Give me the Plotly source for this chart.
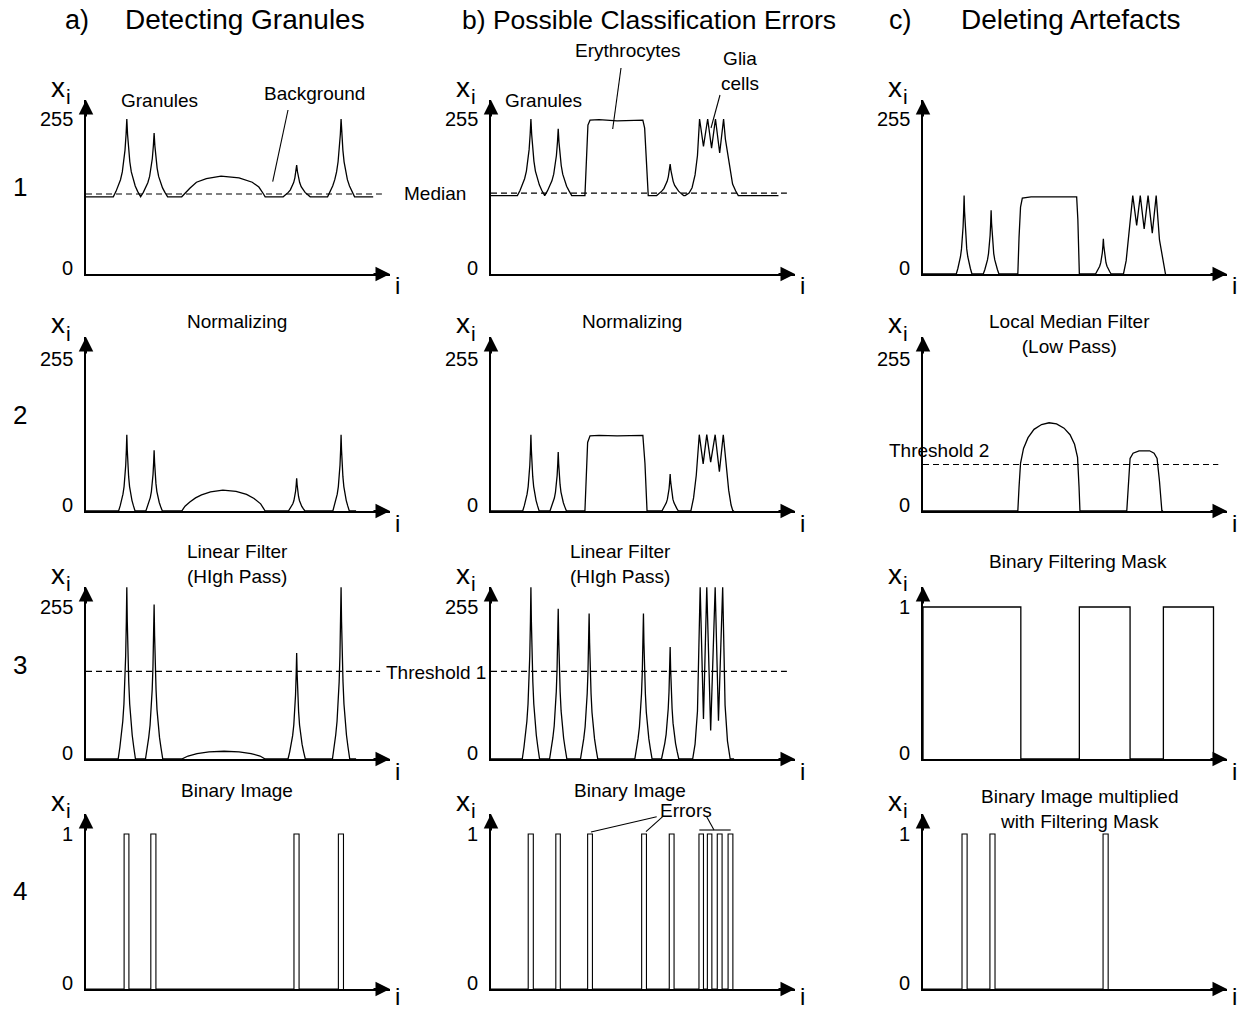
import plotly.graph_objects as go

W, H = 1238, 1012
FONT = "Liberation Sans, Arial, Helvetica, sans-serif"

# ---------------- layout geometry (pixels) ----------------
COL_L = [86, 491, 923]          # x pixel of each column's vertical axis
AXIS_LEN = 304                  # pixel length of horizontal axis
I_MAX = 101.3                   # i value at the tip of the horizontal axis
ROW_BASE = [274, 511, 759, 989] # pixel of value 0
ROW_TOP = [119, 359, 607, 834]  # pixel of the top tick value
ROW_TIP = [100, 337, 587, 814]  # pixel of the arrow tip
ROW_ILABEL_DY = [12, 12, 12, 7] # offset of the "i" axis name below the axis
YMAX = [[255, 255, 255], [255, 255, 255], [255, 255, 1], [1, 1, 1]]

# ---------------- data ----------------
# generic peak profile (offset in i, fraction of peak height)
PEAK_DX = [-4.5, -3.6, -2.8, -2.1, -1.5, -1.0, -0.6, -0.25, 0, 0.25, 0.6, 1.0, 1.5, 2.1, 2.8, 3.6, 4.5]
PEAK_F = [0, 0.07, 0.14, 0.22, 0.32, 0.45, 0.60, 0.80, 1, 0.80, 0.60, 0.45, 0.32, 0.22, 0.14, 0.07, 0]

# a1) raw signal
A1_BASE = 127
A1_PEAK_I = [13.6, 22.7, 70.2, 85.0]
A1_PEAK_TOP = [255, 232, 179, 255]
A1_HUMP_I = [31.9, 33.2, 34.6, 36.8, 40.1, 45.0, 51.0, 55.4, 57.6, 59.1, 59.7]
A1_HUMP_X = [127, 134, 141, 151, 157, 161, 158, 151, 143, 132, 127]
A1_END = 95.7
A1_MEDIAN = 131.5

# b1) raw signal with artefacts
B1_BASE = 129
B1_PEAK_I = [13.3, 22.4, 59.7]
B1_PEAK_TOP = [255, 239, 181]
B1_ERY_I = [31.3, 31.8, 32.3, 33.0, 36.0, 42.0, 46.0, 50.6, 51.2, 51.8, 52.4]
B1_ERY_X = [129, 200, 245, 253, 254, 252, 252, 253, 240, 180, 129]
B1_GLIA_I = [64.7, 66.0, 67.0, 68.0, 68.8, 69.5, 70.8, 72.2, 73.5, 74.8, 76.2, 77.5, 78.1, 78.8, 79.6, 80.5, 81.5, 82.4]
B1_GLIA_X = [129, 133, 142, 163, 195, 255, 210, 255, 207, 255, 199, 255, 222, 200, 170, 148, 137, 129]
B1_END = 95.8
B1_MEDIAN = 133

# c1) normalized signal with artefacts
C1_PEAK_I = [13.7, 22.7, 60.1]
C1_PEAK_TOP = [129, 105, 58]
C1_ERY_I = [31.6, 32.0, 32.5, 33.1, 36.0, 45.0, 51.2, 51.6, 52.1]
C1_ERY_X = [0, 60, 110, 125, 127, 127, 127, 90, 0]
C1_GLIA_I = [66.8, 67.7, 68.6, 69.9, 71.2, 72.4, 73.7, 75.0, 76.4, 77.7, 78.8, 79.9, 80.8]
C1_GLIA_X = [0, 22, 67, 129, 80, 129, 74, 129, 67, 129, 56, 22, 0]

# a2) normalized
A2_PEAK_I = [13.6, 22.7, 70.2, 85.0]
A2_PEAK_TOP = [128, 102, 55, 128]
A2_HUMP_I = [31.9, 33.0, 34.6, 36.5, 38.5, 41.5, 45.6, 50.0, 53.5, 56.0, 58.2, 59.7]
A2_HUMP_X = [0, 8, 15, 22, 27, 32, 35, 33, 28, 21, 12, 0]

# b2) normalized
B2_PEAK_I = [13.3, 22.4, 59.7]
B2_PEAK_TOP = [128, 99, 62]
B2_ERY_I = [31.3, 31.7, 32.2, 33.0, 36.0, 42.0, 46.0, 50.6, 51.3, 52.0]
B2_ERY_X = [0, 60, 115, 126, 127, 126, 126, 127, 80, 0]
B2_GLIA_I = [66.6, 67.5, 68.4, 69.4, 70.7, 71.9, 73.2, 74.7, 76.1, 77.4, 78.2, 79.2, 80.0, 80.6]
B2_GLIA_X = [0, 22, 60, 128, 79, 128, 82, 128, 66, 128, 80, 35, 10, 0]

# c2) local median filter
C2_DOME1_I = [31.6, 32.0, 32.5, 33.5, 35.0, 37.0, 39.5, 42.0, 44.5, 47.0, 49.0, 50.5, 51.5, 52.0, 52.3]
C2_DOME1_X = [0, 40, 80, 105, 123, 137, 145, 148, 146, 139, 128, 112, 90, 40, 0]
C2_DOME2_I = [67.9, 68.4, 69.0, 70.0, 72.0, 75.5, 77.0, 78.0, 78.8, 79.6]
C2_DOME2_X = [0, 50, 88, 97, 101, 101, 97, 88, 50, 0]
C2_THRESHOLD = 78

# a3) high pass
A3_PEAK_I = [13.6, 22.7, 70.2, 85.0]
A3_PEAK_TOP = [288, 259, 178, 288]
A3_HUMP_I = [31.9, 34.0, 37.0, 41.0, 46.0, 51.0, 55.0, 58.0, 59.7]
A3_HUMP_X = [0, 5, 9, 12, 13, 12, 9, 5, 0]
THRESHOLD_1 = 147

# b3) high pass
B3_PEAK_I = [13.3, 22.4, 32.7, 50.8, 59.7]
B3_PEAK_TOP = [288, 252, 244, 244, 188]
B3_GLIA_I = [67.2, 68.0, 68.8, 69.7, 70.8, 71.9, 73.2, 74.7, 75.8, 77.2, 78.0, 78.8, 79.7]
B3_GLIA_X = [0, 25, 80, 288, 67, 288, 48, 288, 64, 288, 90, 30, 0]

# c3) binary filtering mask
C3_MASK_START = [0.0, 52.1, 80.1]
C3_MASK_END = [32.6, 69.0, 96.8]

# row 4 binary images
A4_START = [12.7, 21.6, 69.3, 84.1]
A4_END = [14.3, 23.3, 71.0, 85.8]
B4_START = [12.4, 21.6, 32.2, 50.2, 59.4, 69.3, 72.1, 75.4, 79.0]
B4_END = [14.1, 23.1, 33.8, 51.8, 61.0, 70.8, 73.6, 77.0, 80.6]
C4_START = [13.0, 22.3, 60.0]
C4_END = [14.7, 24.0, 61.7]


# ---------------- helpers ----------------
def signal(base, end, peaks_i=(), peaks_top=(), w=1.0, polys=()):
    feats = []
    for c, t in zip(peaks_i, peaks_top):
        feats.append(([c + d * w for d in PEAK_DX], [base + (t - base) * f for f in PEAK_F]))
    for xi, yi in polys:
        feats.append((list(xi), list(yi)))
    feats.sort(key=lambda f: f[0][0])
    xs, ys = [0], [base]
    for fx, fy in feats:
        xs += fx
        ys += fy
    xs.append(max(end, xs[-1]))
    ys.append(base)
    return xs, ys


def pulses(starts, ends):
    xs, ys = [0], [0]
    for s, e in zip(starts, ends):
        xs += [s, s, e, e]
        ys += [0, 1, 1, 0]
    return xs, ys


def px(x):
    return x / W


def py(y):
    return 1 - y / H


fig = go.Figure()
layout = dict(
    width=W, height=H, margin=dict(l=0, r=0, t=0, b=0), autosize=False,
    paper_bgcolor="white", plot_bgcolor="rgba(0,0,0,0)", showlegend=False,
    font=dict(family=FONT, color="black"),
)
annotations = []
shapes = []


def text(x, y, s, size=19, **kw):
    annotations.append(dict(xref="paper", yref="paper", x=px(x), y=py(y), text=s,
                            xanchor=kw.pop("xanchor", "center"), yanchor="middle",
                            showarrow=False, font=dict(size=size), **kw))


for r in range(4):
    for c in range(3):
        n = r * 3 + c + 1
        L = COL_L[c]
        B, T, A = ROW_BASE[r], ROW_TOP[r], ROW_TIP[r]
        ymax = YMAX[r][c]
        ytop = ymax * (B - A) / (B - T)
        sx = "" if n == 1 else str(n)
        layout["xaxis" + sx] = dict(
            domain=[px(L), px(L + AXIS_LEN)], range=[0, I_MAX], anchor="y" + sx,
            showline=True, linecolor="black", linewidth=2, showgrid=False, zeroline=False,
            ticks="", showticklabels=False, fixedrange=True)
        layout["yaxis" + sx] = dict(
            domain=[py(B), py(A)], range=[0, ytop], anchor="x" + sx,
            showline=True, linecolor="black", linewidth=2, showgrid=False, zeroline=False,
            ticks="", showticklabels=False, fixedrange=True)
        xr, yr = "x" + sx, "y" + sx
        # arrow heads
        annotations.append(dict(xref=xr, yref=yr, x=0, y=ytop, ax=0, ay=18, text="",
                                showarrow=True, arrowhead=2, arrowsize=1.45, arrowwidth=2,
                                arrowcolor="black", standoff=0))
        annotations.append(dict(xref=xr, yref=yr, x=I_MAX, y=0, ax=-18, ay=0, text="",
                                showarrow=True, arrowhead=2, arrowsize=1.45, arrowwidth=2,
                                arrowcolor="black", standoff=0))
        # tick labels
        top_lbl = "255" if ymax == 255 else "1"
        annotations.append(dict(xref=xr, yref=yr, x=0, y=ymax, text=top_lbl, showarrow=False,
                                xanchor="right", yanchor="middle", xshift=-11, font=dict(size=20)))
        annotations.append(dict(xref=xr, yref=yr, x=0, y=0, text="0", showarrow=False,
                                xanchor="right", yanchor="middle", xshift=-11, yshift=6,
                                font=dict(size=20)))
        # axis names
        text(L - 28, A - 13, "x", 28)
        text(L - 18, A - 4, "i", 21)
        text(L + 311, B + ROW_ILABEL_DY[r], "i", 24)


def line(n, xs, ys, dash=None, width=1.3):
    sx = "" if n == 1 else str(n)
    fig.add_trace(go.Scatter(x=xs, y=ys, mode="lines", xaxis="x" + sx, yaxis="y" + sx,
                             line=dict(color="black", width=width, dash=dash),
                             hoverinfo="skip", cliponaxis=False))


DASH = "6px,4px"
# row 1
line(1, [0, 98.6], [A1_MEDIAN, A1_MEDIAN], dash=DASH, width=1.1)
line(1, *signal(A1_BASE, A1_END, A1_PEAK_I, A1_PEAK_TOP, 1.0, [(A1_HUMP_I, A1_HUMP_X)]))
line(2, [0, 98.6], [B1_MEDIAN, B1_MEDIAN], dash=DASH, width=1.1)
line(2, *signal(B1_BASE, B1_END, B1_PEAK_I, B1_PEAK_TOP, 1.0,
                [(B1_ERY_I, B1_ERY_X), (B1_GLIA_I, B1_GLIA_X)]))
line(3, *signal(0, 81, C1_PEAK_I, C1_PEAK_TOP, 0.58, [(C1_ERY_I, C1_ERY_X), (C1_GLIA_I, C1_GLIA_X)]))
# row 2
line(4, *signal(0, 90, A2_PEAK_I, A2_PEAK_TOP, 0.61, [(A2_HUMP_I, A2_HUMP_X)]))
line(5, *signal(0, 81, B2_PEAK_I, B2_PEAK_TOP, 0.61, [(B2_ERY_I, B2_ERY_X), (B2_GLIA_I, B2_GLIA_X)]))
line(6, [0, 98.4], [C2_THRESHOLD, C2_THRESHOLD], dash=DASH, width=1.1)
line(6, *signal(0, 80, (), (), 1.0, [(C2_DOME1_I, C2_DOME1_X), (C2_DOME2_I, C2_DOME2_X)]))
# row 3
line(7, [0, 98.0], [THRESHOLD_1, THRESHOLD_1], dash=DASH, width=1.1)
line(7, *signal(0, 90, A3_PEAK_I, A3_PEAK_TOP, 0.64, [(A3_HUMP_I, A3_HUMP_X)]))
line(8, [0, 98.6], [THRESHOLD_1, THRESHOLD_1], dash=DASH, width=1.1)
line(8, *signal(0, 81, B3_PEAK_I, B3_PEAK_TOP, 0.64, [(B3_GLIA_I, B3_GLIA_X)]))
mx, my = [], []
for s, e in zip(C3_MASK_START, C3_MASK_END):
    mx += [s, s, e, e]
    my += [0, 1, 1, 0]
line(9, mx, my, width=1.3)
# row 4
line(10, *pulses(A4_START, A4_END), width=1.1)
line(11, *pulses(B4_START, B4_END), width=1.1)
line(12, *pulses(C4_START, C4_END), width=1.1)

# column titles
text(77, 20, "a)", 27)
text(245, 20, "Detecting Granules", 28)
text(649, 20, "b) Possible Classification Errors", 26.5)
text(900, 20, "c)", 27)
text(1070, 20, "Deleting Artefacts", 28)
# row numbers
for yy, s in zip([187, 415, 665, 891], ["1", "2", "3", "4"]):
    text(20, yy, s, 26)

# panel texts
text(159, 101, "Granules")
text(314, 93, "Background")
text(543, 101, "Granules")
text(628, 50, "Erythrocytes")
text(740, 71, "Glia<br>cells")
text(435, 193, "Median")
text(237, 322, "Normalizing")
text(632, 322, "Normalizing")
text(1069, 334, "Local Median Filter<br>(Low Pass)")
text(939, 450, "Threshold 2")
text(237, 564, "Linear Filter<br>(HIgh Pass)")
text(620, 564, "Linear Filter<br>(HIgh Pass)")
text(1078, 561, "Binary Filtering Mask")
text(436, 672, "Threshold 1")
text(237, 790, "Binary Image")
text(630, 790, "Binary Image")
text(686, 810, "Errors")
text(1079, 809, "Binary Image multiplied<br>with Filtering Mask")

# leader lines
LEADERS = [
    (288, 110, 272.7, 181.7),
    (621, 68, 612.7, 129),
    (720, 95, 711, 128),
    (591, 832, 656.7, 816.7),
    (646, 831.7, 662.7, 816.7),
    (699.3, 830, 730.7, 830),
    (714, 830, 706.7, 816.7),
]
for x0, y0, x1, y1 in LEADERS:
    shapes.append(dict(type="line", xref="paper", yref="paper", x0=px(x0), y0=py(y0),
                       x1=px(x1), y1=py(y1), line=dict(color="black", width=1.1)))

layout["annotations"] = annotations
layout["shapes"] = shapes
fig.update_layout(**layout)
fig.write_html("out.html", config={"displayModeBar": False},
               post_script="document.body.style.margin='0';document.body.style.padding='0';")
